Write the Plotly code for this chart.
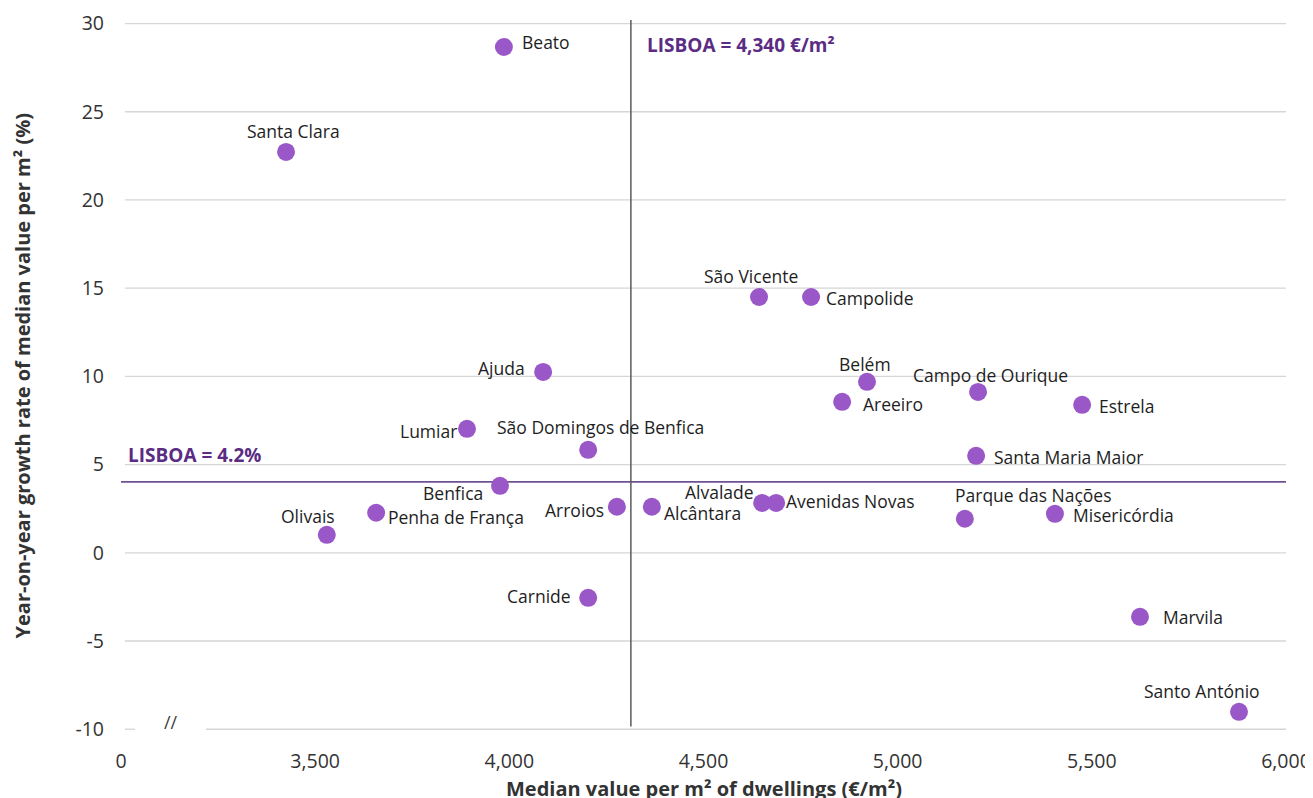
import plotly.graph_objects as go

# ---- data ----
parishes = ["Beato", "Santa Clara", "Ajuda", "Lumiar", "São Domingos de Benfica",
            "Benfica", "Penha de França", "Olivais", "Arroios", "Alcântara", "Carnide",
            "São Vicente", "Campolide", "Belém", "Campo de Ourique", "Areeiro", "Estrela",
            "Santa Maria Maior", "Alvalade", "Avenidas Novas", "Parque das Nações",
            "Misericórdia", "Marvila", "Santo António"]
median_value = [3986, 3425, 4087, 3891, 4203, 3976, 3657, 3530, 4277, 4367, 4203,
                4643, 4777, 4921, 5207, 4857, 5475, 5202, 4651, 4687, 5173, 5405, 5624, 5879]
growth_rate = [28.67, 22.72, 10.25, 7.03, 5.84, 3.80, 2.27, 1.02, 2.61, 2.61, -2.55,
               14.50, 14.50, 9.69, 9.12, 8.56, 8.39, 5.50, 2.83, 2.83, 1.93, 2.21, -3.63, -9.01]

lisboa_value_pos = 4313      # vertical reference line position (as drawn)
lisboa_growth_pos = 4.02     # horizontal reference line position (as drawn)
lisboa_value_text = "LISBOA = 4,340 €/m²"
lisboa_growth_text = "LISBOA = 4.2%"

x_tickvals = [3000, 3500, 4000, 4500, 5000, 5500, 6000]
x_ticktext = ["0", "3,500", "4,000", "4,500", "5,000", "5,500", "6,000"]
y_tickvals = [30, 25, 20, 15, 10, 5, 0, -5, -10]
y_ticktext = ["30", "25", "20", "15", "10", "5", "0", "-5", "-10"]

# label placement (anchor, xshift, yshift) -- styling only
label_pos = {
    "Beato": ("left", 16, 5), "Santa Clara": ("center", 7, 21), "Ajuda": ("right", -16, 4),
    "Lumiar": ("right", -8, -2), "São Domingos de Benfica": ("center", 12, 23),
    "Benfica": ("right", -15, -7), "Penha de França": ("left", 10, -4),
    "Olivais": ("center", -19, 19), "Arroios": ("right", -11, -3),
    "Alcântara": ("left", 10, -6), "Carnide": ("right", -15, 2),
    "São Vicente": ("center", -8, 21), "Campolide": ("left", 13, -1),
    "Belém": ("center", -2, 18), "Campo de Ourique": ("center", 12, 17),
    "Areeiro": ("left", 19, -2), "Estrela": ("left", 15, -1),
    "Santa Maria Maior": ("left", 16, -1), "Alvalade": ("right", -6, 11),
    "Avenidas Novas": ("left", 8, 2), "Parque das Nações": ("center", 69, 24),
    "Misericórdia": ("left", 16, -1), "Marvila": ("left", 21, 0),
    "Santo António": ("center", -37, 21),
}

FONT = "Open Sans"
PURPLE_DARK = "#5B2C83"
GRID = "#d6d6d6"

fig = go.Figure()
fig.add_trace(go.Scatter(
    x=median_value, y=growth_rate, mode="markers",
    marker=dict(size=18, color="#9A57C8", line=dict(width=0)),
    hoverinfo="text", text=parishes, showlegend=False, cliponaxis=False,
))

shapes = []
for yv in y_tickvals:
    if yv == -10:
        shapes.append(dict(type="line", xref="x", yref="y", x0=3010, x1=3036, y0=yv, y1=yv,
                           line=dict(color=GRID, width=1.3), layer="below"))
        shapes.append(dict(type="line", xref="x", yref="y", x0=3219, x1=6000, y0=yv, y1=yv,
                           line=dict(color=GRID, width=1.3), layer="below"))
    else:
        shapes.append(dict(type="line", xref="x", yref="y", x0=3010, x1=6000, y0=yv, y1=yv,
                           line=dict(color=GRID, width=1.3), layer="below"))
# reference lines
shapes.append(dict(type="line", xref="x", yref="y", x0=3000, x1=6000,
                   y0=lisboa_growth_pos, y1=lisboa_growth_pos,
                   line=dict(color="#705090", width=1.6), layer="below"))
shapes.append(dict(type="line", xref="x", yref="y", x0=lisboa_value_pos, x1=lisboa_value_pos,
                   y0=30.2, y1=-9.85, line=dict(color="#5a5a5a", width=1.5), layer="below"))

annotations = []
for name, xv, yv in zip(parishes, median_value, growth_rate):
    anc, xs, ys = label_pos[name]
    annotations.append(dict(x=xv, y=yv, xref="x", yref="y", text=name, showarrow=False,
                            xanchor=anc, yanchor="middle", xshift=xs, yshift=ys,
                            font=dict(family=FONT, size=17.5, color="#1e1e1e")))
annotations.append(dict(x=lisboa_value_pos, y=28.8, xref="x", yref="y", text="<b>" + lisboa_value_text + "</b>",
                        showarrow=False, xanchor="left", yanchor="middle", xshift=14,
                        font=dict(family=FONT, size=19, color=PURPLE_DARK)))
annotations.append(dict(x=0.0, y=5.55, xref="paper", yref="y", text="<b>" + lisboa_growth_text + "</b>",
                        showarrow=False, xanchor="left", yanchor="middle", xshift=5,
                        font=dict(family=FONT, size=19, color=PURPLE_DARK)))
annotations.append(dict(x=3130, y=-9.6, xref="x", yref="y", text="//", showarrow=False,
                        xanchor="center", yanchor="middle",
                        font=dict(family=FONT, size=18, color="#404040")))
# axis titles
annotations.append(dict(x=0.5, y=0, xref="paper", yref="paper", yanchor="middle",
                        text="<b>Median value per m² of dwellings (€/m²)</b>", showarrow=False,
                        yshift=-57, xanchor="center",
                        font=dict(family=FONT, size=20, color="#333333")))
annotations.append(dict(x=0, y=0.5, xref="paper", yref="paper",
                        text="<b>Year-on-year growth rate of median value per m² (%)</b>", showarrow=False,
                        xshift=-99, textangle=-90, xanchor="center", yanchor="middle",
                        font=dict(family=FONT, size=20, color="#333333")))

# page body has an 8px margin, so the figure is 8px smaller and offset accordingly
fig.update_layout(
    width=1305, height=790,
    margin=dict(l=113, r=27, t=12, b=67, autoexpand=False),
    paper_bgcolor="white", plot_bgcolor="white",
    shapes=shapes, annotations=annotations,
    xaxis=dict(range=[3000, 6000], tickvals=x_tickvals, ticktext=x_ticktext,
               showgrid=False, zeroline=False, showline=False, ticks="",
               ticklabelstandoff=16, automargin=False,
               tickfont=dict(family=FONT, size=19.5, color="#333333")),
    yaxis=dict(range=[-10.1, 30.2], tickvals=y_tickvals, ticktext=y_ticktext,
               showgrid=False, zeroline=False, automargin=False,
               showline=False, ticks="", ticklabelstandoff=16,
               tickfont=dict(family=FONT, size=19.5, color="#333333")),
)

fig.write_html("out.html")
